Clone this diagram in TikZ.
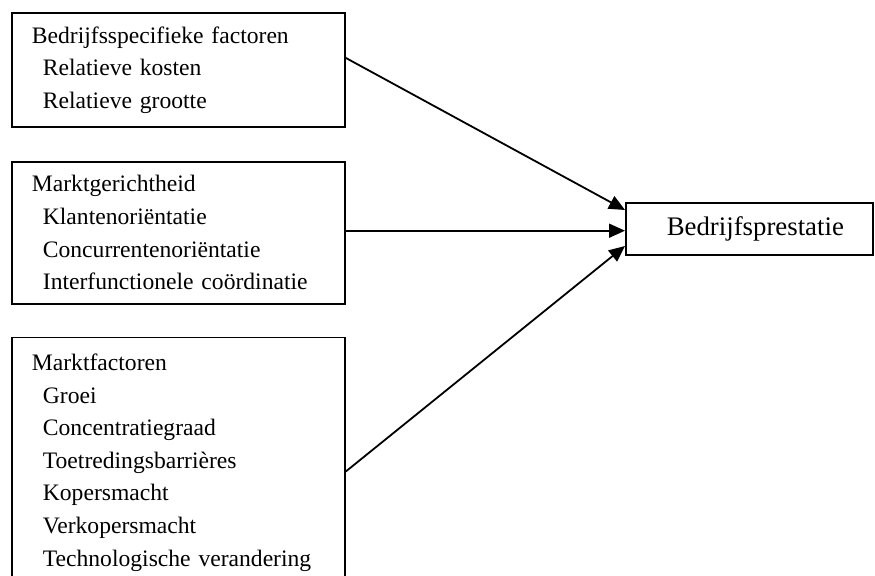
\documentclass[tikz,border=0pt]{standalone}
\usepackage{fontspec}
\setmainfont{Liberation Serif}
\usetikzlibrary{arrows.meta,positioning}
\newcommand{\subfac}{\hspace*{5.5pt}}

\begin{document}
\begin{tikzpicture}[
  x=0.5pt,y=-0.5pt,
  line width=0.9pt,
  factor/.style={draw,align=left,anchor=north west,text width=146.5pt,inner xsep=10pt,inner ysep=0pt,minimum width=166.5pt,font=\fontsize{11.8}{16.3}\selectfont},
  perf/.style={draw,align=right,text width=94.5pt,inner xsep=14.5pt,minimum height=26pt,font=\fontsize{13.4}{15}\selectfont},
  arrow/.style={-{Triangle[length=8pt,width=7pt]}}
]
\useasboundingbox (0,0) rectangle (875,575);
\node[factor,minimum height=57pt] (firm) at (11,12) {Bedrijfsspecifieke factoren\\
  \subfac Relatieve kosten\\
  \subfac Relatieve grootte};
\node[factor,minimum height=71pt,below=16.5pt of firm.south west,anchor=north west] (market) {Marktgerichtheid\\
  \subfac Klantenoriëntatie\\
  \subfac Concurrentenoriëntatie\\
  \subfac Interfunctionele coördinatie};
\node[factor,minimum height=125pt,below=16pt of market.south west,anchor=north west] (mfactors) {Marktfactoren\\
  \subfac Groei\\
  \subfac Concentratiegraad\\
  \subfac Toetredingsbarrières\\
  \subfac Kopersmacht\\
  \subfac Verkopersmacht\\
  \subfac Technologische verandering};
\node[perf,anchor=west] (perform) at (625,229) {Bedrijfsprestatie};
\draw[arrow] ([yshift=6pt]firm.east) -- ([yshift=9.5pt]perform.west);
\draw[arrow] ([yshift=1pt]market.east) -- ([yshift=1pt]market.east -| perform.west);
\draw[arrow] ([yshift=-4.5pt]mfactors.east) -- ([yshift=-8.5pt]perform.west);
\end{tikzpicture}
\end{document}
